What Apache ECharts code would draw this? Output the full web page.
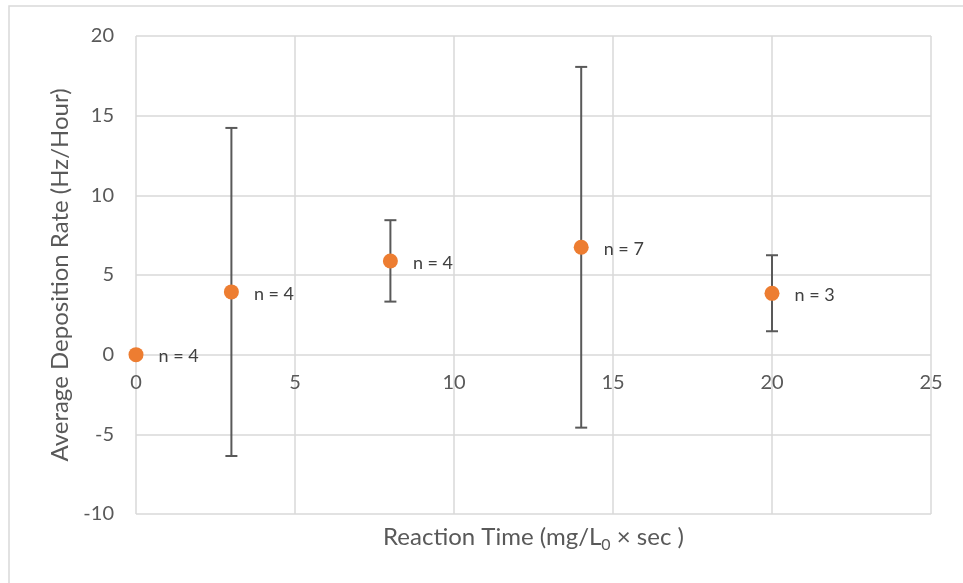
<!DOCTYPE html>
<html>
<head>
<meta charset="utf-8">
<script src="https://cdn.jsdelivr.net/npm/echarts@6/dist/echarts.min.js"></script>
<style>
  html, body { margin: 0; padding: 0; background: #fff; }
  #chart { width: 963px; height: 583px; }
</style>
</head>
<body>
<div id="chart"></div>
<script>
// Reaction time (x) vs. average deposition rate (y), with ± error
const reactionTime = [0, 3, 8, 14, 20];
const depositionRate = [0, 3.94, 5.88, 6.74, 3.85];
const errorPlus = [0, 10.29, 2.56, 11.32, 2.39];
const errorMinus = [0, 10.30, 2.55, 11.32, 2.38];
const sampleCounts = ['n = 4', 'n = 4', 'n = 4', 'n = 7', 'n = 3'];

const FONT = 'Lato, "Open Sans", sans-serif';

const Y_MIN = -10, Y_MAX = 20;
const GRID = { left: 136, right: 32, top: 36, bottom: 69 };
const plotHeight = 583 - GRID.top - GRID.bottom;
// x axis sits on the y = 0 line
const xAxisOffset = -plotHeight * (0 - Y_MIN) / (Y_MAX - Y_MIN);

const chart = echarts.init(document.getElementById('chart'));

const points = reactionTime.map((x, i) => [x, depositionRate[i]]);
const errorData = reactionTime
  .map((x, i) => [x, depositionRate[i] - errorMinus[i], depositionRate[i] + errorPlus[i]])
  .filter((d, i) => errorPlus[i] > 0 || errorMinus[i] > 0);

chart.setOption({
  animation: false,
  backgroundColor: '#fff',
  graphic: [{
    type: 'rect',
    shape: { x: 9, y: 6, width: 1000, height: 620 },
    style: { fill: 'none', stroke: '#d9d9d9', lineWidth: 1.5 },
    silent: true
  }],
  grid: Object.assign({ containLabel: false, outerBoundsMode: 'none' }, GRID),
  xAxis: {
    type: 'value',
    min: 0, max: 25, interval: 5,
    offset: xAxisOffset,
    name: '{t|Reaction Time (mg/L}{s|0}{t| × sec )}',
    nameLocation: 'middle',
    nameGap: 168,
    nameTextStyle: {
      rich: {
        t: { fontFamily: FONT, fontSize: 24, color: '#595959' },
        s: { fontFamily: FONT, fontSize: 16, color: '#595959', verticalAlign: 'bottom', padding: [14, 0, 0, 0] }
      }
    },
    axisLine: { show: false, onZero: false },
    axisTick: { show: false },
    axisLabel: { fontFamily: FONT, fontSize: 20, color: '#595959', margin: 18 },
    splitLine: { show: true, lineStyle: { color: '#d9d9d9', width: 1.5 } }
  },
  yAxis: {
    type: 'value',
    min: Y_MIN, max: Y_MAX, interval: 5,
    name: 'Average Deposition Rate (Hz/Hour)',
    nameLocation: 'middle',
    nameGap: 64,
    nameTextStyle: { fontFamily: FONT, fontSize: 24, color: '#595959' },
    axisLine: { show: false },
    axisTick: { show: false },
    axisLabel: { fontFamily: FONT, fontSize: 20, color: '#595959', margin: 22 },
    splitLine: { show: true, lineStyle: { color: '#d9d9d9', width: 1.5 } }
  },
  series: [
    {
      type: 'custom',
      name: 'error',
      data: errorData,
      z: 2,
      renderItem: function (params, api) {
        const x = api.value(0);
        const lo = api.coord([x, api.value(1)]);
        const hi = api.coord([x, api.value(2)]);
        const half = 6;
        const style = { stroke: '#595959', lineWidth: 2, fill: 'none' };
        return {
          type: 'group',
          children: [
            { type: 'line', shape: { x1: hi[0], y1: hi[1], x2: lo[0], y2: lo[1] }, style },
            { type: 'line', shape: { x1: hi[0] - half, y1: hi[1], x2: hi[0] + half, y2: hi[1] }, style },
            { type: 'line', shape: { x1: lo[0] - half, y1: lo[1], x2: lo[0] + half, y2: lo[1] }, style }
          ]
        };
      }
    },
    {
      type: 'scatter',
      name: 'rate',
      data: points,
      symbol: 'circle',
      symbolSize: 15,
      z: 3,
      itemStyle: { color: '#ED7D31', opacity: 1 },
      label: {
        show: true,
        position: 'right',
        distance: 15,
        offset: [0, 2],
        fontFamily: FONT,
        fontSize: 18,
        color: '#404040',
        formatter: p => sampleCounts[p.dataIndex]
      }
    }
  ]
});
</script>
</body>
</html>
